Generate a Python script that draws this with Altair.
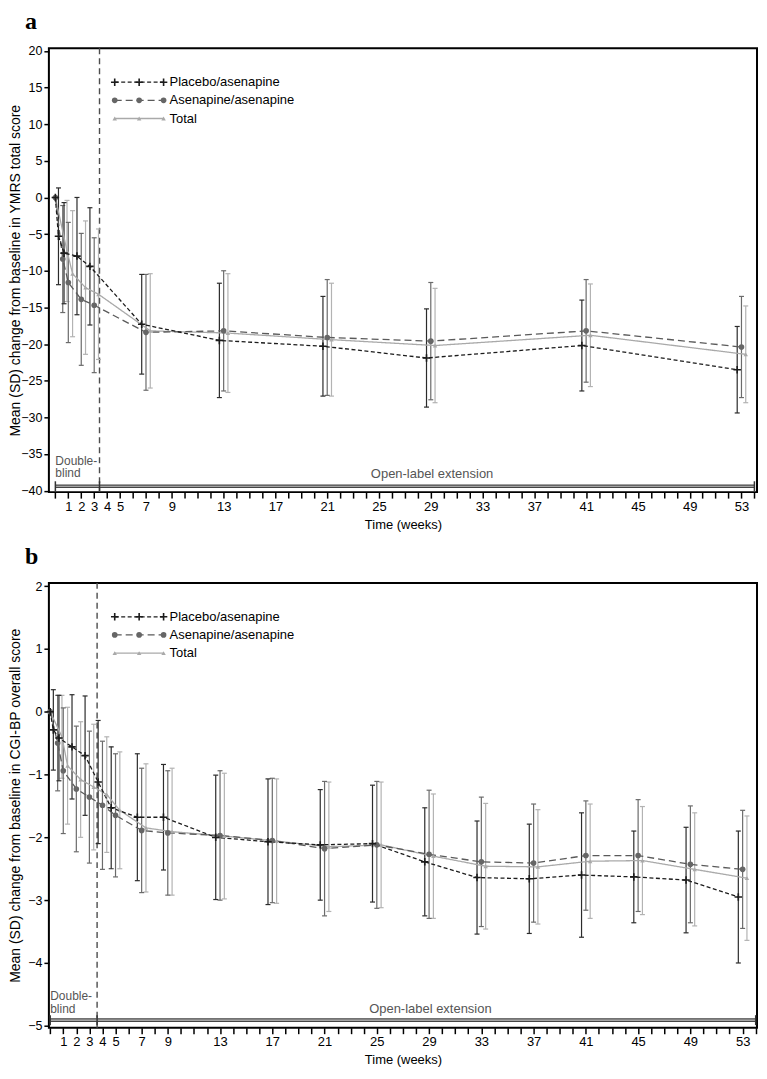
import altair as alt
import pandas as pd

SERIES = ["Placebo/asenapine", "Asenapine/asenapine", "Total"]

# ---------------- Panel a: YMRS total score ----------------
WEEKS_A = [0, 0.57, 1, 2, 3, 7, 13, 21, 29, 41, 53]
A_PLACEBO_MEAN = [0, -5.3, -7.6, -8.0, -9.4, -17.3, -19.5, -20.3, -21.9, -20.2, -23.5]
A_PLACEBO_SD = [0, 6.6, 6.9, 8.0, 8.0, 6.8, 7.8, 6.8, 6.7, 6.2, 5.9]
A_ASEN_MEAN = [0, -8.4, -11.6, -13.9, -14.7, -18.4, -18.2, -19.1, -19.6, -18.2, -20.4]
A_ASEN_SD = [0, 7.3, 8.2, 9.0, 9.2, 7.9, 8.2, 7.9, 8.0, 7.0, 6.9]
A_TOTAL_MEAN = [0, -7.3, -10.4, -12.3, -13.2, -18.2, -18.5, -19.4, -20.2, -18.8, -21.4]
A_TOTAL_SD = [0, 6.9, 8.6, 9.1, 8.9, 7.8, 8.1, 7.7, 7.8, 7.0, 6.6]

# ---------------- Panel b: CGI-BP overall score ----------------
WEEKS_B = [0, 0.57, 1, 2, 3, 4, 5, 7, 9, 13, 17, 21, 25, 29, 33, 37, 41, 45, 49, 53]
B_PLACEBO_MEAN = [0, -0.29, -0.42, -0.56, -0.70, -1.12, -1.53, -1.68, -1.68, -2.00,
                  -2.07, -2.12, -2.10, -2.39, -2.64, -2.66, -2.60, -2.63, -2.68, -2.95]
B_PLACEBO_SD = [0, 0.64, 0.68, 0.83, 0.95, 0.98, 0.97, 1.01, 0.84, 0.99,
                1.00, 0.88, 0.93, 0.86, 0.90, 0.87, 0.99, 0.73, 0.84, 1.05]
B_ASEN_MEAN = [0, -0.50, -0.94, -1.23, -1.36, -1.49, -1.65, -1.89, -1.93, -1.97,
               -2.05, -2.18, -2.12, -2.27, -2.39, -2.41, -2.29, -2.29, -2.43, -2.51]
B_ASEN_SD = [0, 0.76, 1.00, 1.00, 1.05, 1.02, 0.98, 0.99, 0.99, 1.03,
             0.99, 1.07, 1.01, 1.02, 1.03, 0.94, 0.87, 0.89, 0.93, 0.94]
B_TOTAL_MEAN = [0, -0.40, -0.86, -1.08, -1.20, -1.32, -1.57, -1.85, -1.91, -1.98,
                -2.06, -2.15, -2.12, -2.30, -2.46, -2.47, -2.38, -2.37, -2.51, -2.65]
B_TOTAL_SD = [0, 0.66, 0.93, 0.92, 1.00, 0.92, 0.93, 1.02, 1.01, 1.00,
              0.99, 1.03, 1.00, 0.99, 1.00, 0.91, 0.91, 0.86, 0.90, 0.99]

X_TICK_LABELS = [1, 2, 3, 4, 5, 7, 9, 13, 17, 21, 25, 29, 33, 37, 41, 45, 49, 53]
X_TICK_VALUES = list(range(0, 55))
A_Y_TICKS = list(range(-40, 21, 5))
B_Y_TICKS = list(range(-5, 3))

PHASE_TEXT_TOP = "Double-"
PHASE_TEXT_BOTTOM = "blind"
PHASE_TEXT_OPEN = "Open-label extension"

# ---------------- styles ----------------
DODGE = {"Placebo/asenapine": -0.33, "Asenapine/asenapine": 0.0, "Total": 0.33}
LINE_COLOR = {"Placebo/asenapine": "#1c1c1c", "Asenapine/asenapine": "#5a5a5a", "Total": "#a9a9a9"}
BAR_COLOR = {"Placebo/asenapine": "#2b2b2b", "Asenapine/asenapine": "#6b6b6b", "Total": "#b3b3b3"}
DASH = {"Placebo/asenapine": [4, 2.5], "Asenapine/asenapine": [7, 4], "Total": [1, 0]}
CROSS = "M-1,0L1,0M0,-1L0,1"
FONT = "Liberation Sans, Arial, sans-serif"
NARROW = "Liberation Sans Narrow, Arial Narrow, Liberation Sans, sans-serif"


def long_df(weeks, means, sds):
    rows = []
    for s in SERIES:
        for w, m, sd in zip(weeks, means[s], sds[s]):
            off = DODGE[s] if w > 0 else 0.0
            rows.append(dict(series=s, week=w, xpos=w + off, mean=m,
                             lo=m - sd, hi=m + sd, sd=sd))
    return pd.DataFrame(rows)


def marker(s):
    if s == "Placebo/asenapine":
        return dict(shape=CROSS, filled=False, size=56, strokeWidth=1.6,
                    color=LINE_COLOR[s], opacity=1)
    if s == "Asenapine/asenapine":
        return dict(shape="circle", filled=True, size=32, color="#666666", opacity=1)
    return dict(shape="triangle-up", filled=True, size=20, color="#a9a9a9", opacity=1)


def panel(tag, weeks, means, sds, xdom, ydom, yticks, ytitle, db_end,
          phase_y, db_text_y, open_pos, width, height):
    df = long_df(weeks, means, sds)
    bars = df[df.sd > 0]
    xs = alt.Scale(domain=xdom, nice=False, zero=False)
    ys = alt.Scale(domain=ydom, nice=False, zero=False)
    label_list = ",".join(str(v) for v in X_TICK_LABELS)
    xaxis = alt.Axis(values=X_TICK_VALUES, grid=False, domain=False, tickSize=6,
                     tickWidth=1.5, tickColor="black",
                     labelExpr=f"indexof([{label_list}], datum.value) >= 0 ? datum.label : ''",
                     labelFont=NARROW, labelFontSize=13, labelColor="black",
                     labelPadding=2, labelFlush=False, labelOverlap=False,
                     title="Time (weeks)", titleFont=NARROW, titleFontSize=13,
                     titleFontWeight="normal", titleColor="black", titlePadding=5)
    yaxis = alt.Axis(values=yticks, grid=False, domain=False, tickSize=5,
                     tickWidth=1.5, tickColor="black", labelFont=NARROW,
                     labelFontSize=12.5, labelColor="black", labelPadding=2,
                     labelFlush=False, labelOverlap=False,
                     title=ytitle, titleFont=FONT, titleFontSize=14,
                     titleFontWeight="normal", titleColor="black",
                     titleX=-26, titleY=height / 2)

    def X(f):
        return alt.X(f, type="quantitative", scale=xs, axis=xaxis)

    def Y(f):
        return alt.Y(f, type="quantitative", scale=ys, axis=yaxis)

    layers = []
    # dashed separator between double-blind and open-label
    layers.append(alt.Chart(pd.DataFrame({"week": [db_end]})).mark_rule(
        color="#4d4d4d", strokeDash=[6, 4], strokeWidth=1.4).encode(x=X("week")))
    # phase bar
    phase = pd.DataFrame({"start": [0, db_end], "end": [db_end, 54], "y": [phase_y, phase_y]})
    layers.append(alt.Chart(phase).mark_rule(color="#454545", strokeWidth=3.6).encode(
        x=X("start"), x2="end", y=Y("y")))
    layers.append(alt.Chart(phase).mark_rule(color="#c4c4c4", strokeWidth=1.2).encode(
        x=X("start"), x2="end", y=Y("y")))
    ticks = pd.DataFrame({"week": [0, db_end, 54], "y": [phase_y] * 3})
    layers.append(alt.Chart(ticks).mark_tick(orient="vertical", size=10, thickness=1.5,
                                            color="#333333", opacity=1).encode(
        x=X("week"), y=Y("y")))
    ptext = pd.DataFrame({"t": [PHASE_TEXT_TOP, PHASE_TEXT_BOTTOM],
                          "week": [0, 0], "y": db_text_y})
    layers.append(alt.Chart(ptext).mark_text(align="left", baseline="middle", font=NARROW,
                                            fontSize=12, color="#555555").encode(
        x=X("week"), y=Y("y"), text="t:N"))
    otext = pd.DataFrame({"t": [PHASE_TEXT_OPEN], "week": [open_pos[0]], "y": [open_pos[1]]})
    layers.append(alt.Chart(otext).mark_text(align="center", baseline="middle", font=NARROW,
                                            fontSize=13, color="#555555").encode(
        x=X("week"), y=Y("y"), text="t:N"))

    # error bars, then lines, then markers (Total drawn first, placebo last)
    for s in reversed(SERIES):
        d = bars[bars.series == s]
        layers.append(alt.Chart(d).mark_rule(color=BAR_COLOR[s], strokeWidth=1.2).encode(
            x=X("xpos"), y=Y("lo"), y2="hi"))
        for f in ["lo", "hi"]:
            layers.append(alt.Chart(d).mark_tick(orient="horizontal", size=5, thickness=1.2,
                                                color=BAR_COLOR[s], opacity=1).encode(
                x=X("xpos"), y=Y(f)))
    for s in reversed(SERIES):
        d = df[df.series == s]
        layers.append(alt.Chart(d).mark_line(color=LINE_COLOR[s], strokeDash=DASH[s],
                                            strokeWidth=1.3).encode(
            x=X("xpos"), y=Y("mean")))
    for s in reversed(SERIES):
        d = df[df.series == s]
        layers.append(alt.Chart(d).mark_point(**marker(s)).encode(x=X("xpos"), y=Y("mean")))

    # legend (inside, top-left)
    for i, s in enumerate(SERIES):
        yv = 34 + 18.2 * i
        one = pd.DataFrame({"series": [s]})
        layers.append(alt.Chart(one).mark_rule(color=LINE_COLOR[s], strokeDash=DASH[s],
                                              strokeWidth=1.3).encode(
            x=alt.value(66), x2=alt.value(115), y=alt.value(yv)))
        for xv in [66, 90.5, 115]:
            layers.append(alt.Chart(one).mark_point(**marker(s)).encode(
                x=alt.value(xv), y=alt.value(yv)))
        layers.append(alt.Chart(one).mark_text(align="left", baseline="middle", font=FONT,
                                              fontSize=13, color="black").encode(
            x=alt.value(121), y=alt.value(yv), text="series:N"))

    # panel letter
    layers.append(alt.Chart(pd.DataFrame({"t": [tag]})).mark_text(
        align="left", baseline="alphabetic", font="Liberation Serif", fontWeight="bold",
        fontSize=24, color="black").encode(x=alt.value(-24), y=alt.value(-19), text="t:N"))

    return alt.layer(*layers).properties(width=width, height=height)


means_a = {SERIES[0]: A_PLACEBO_MEAN, SERIES[1]: A_ASEN_MEAN, SERIES[2]: A_TOTAL_MEAN}
sds_a = {SERIES[0]: A_PLACEBO_SD, SERIES[1]: A_ASEN_SD, SERIES[2]: A_TOTAL_SD}
means_b = {SERIES[0]: B_PLACEBO_MEAN, SERIES[1]: B_ASEN_MEAN, SERIES[2]: B_TOTAL_MEAN}
sds_b = {SERIES[0]: B_PLACEBO_SD, SERIES[1]: B_ASEN_SD, SERIES[2]: B_TOTAL_SD}

pa = panel("a", WEEKS_A, means_a, sds_a, [-0.5, 54.2], [-40.2, 20.35], A_Y_TICKS,
           "Mean (SD) change from baseline in YMRS total score", 3.41,
           -39.4, [-36.0, -37.65], (29.1, -37.7), 710, 445)
pb = panel("b", WEEKS_B, means_b, sds_b, [-0.1, 54.1], [-5.03, 2.05], B_Y_TICKS,
           "Mean (SD) change from baseline in CGI-BP overall score", 3.59,
           -4.91, [-4.53, -4.725], (29.1, -4.73), 710, 446)

chart = alt.vconcat(pa, pb, spacing=12, padding=0).configure_view(
    stroke="black", strokeWidth=2)

chart.save("out.html", embed_options={"renderer": "svg", "actions": False})
